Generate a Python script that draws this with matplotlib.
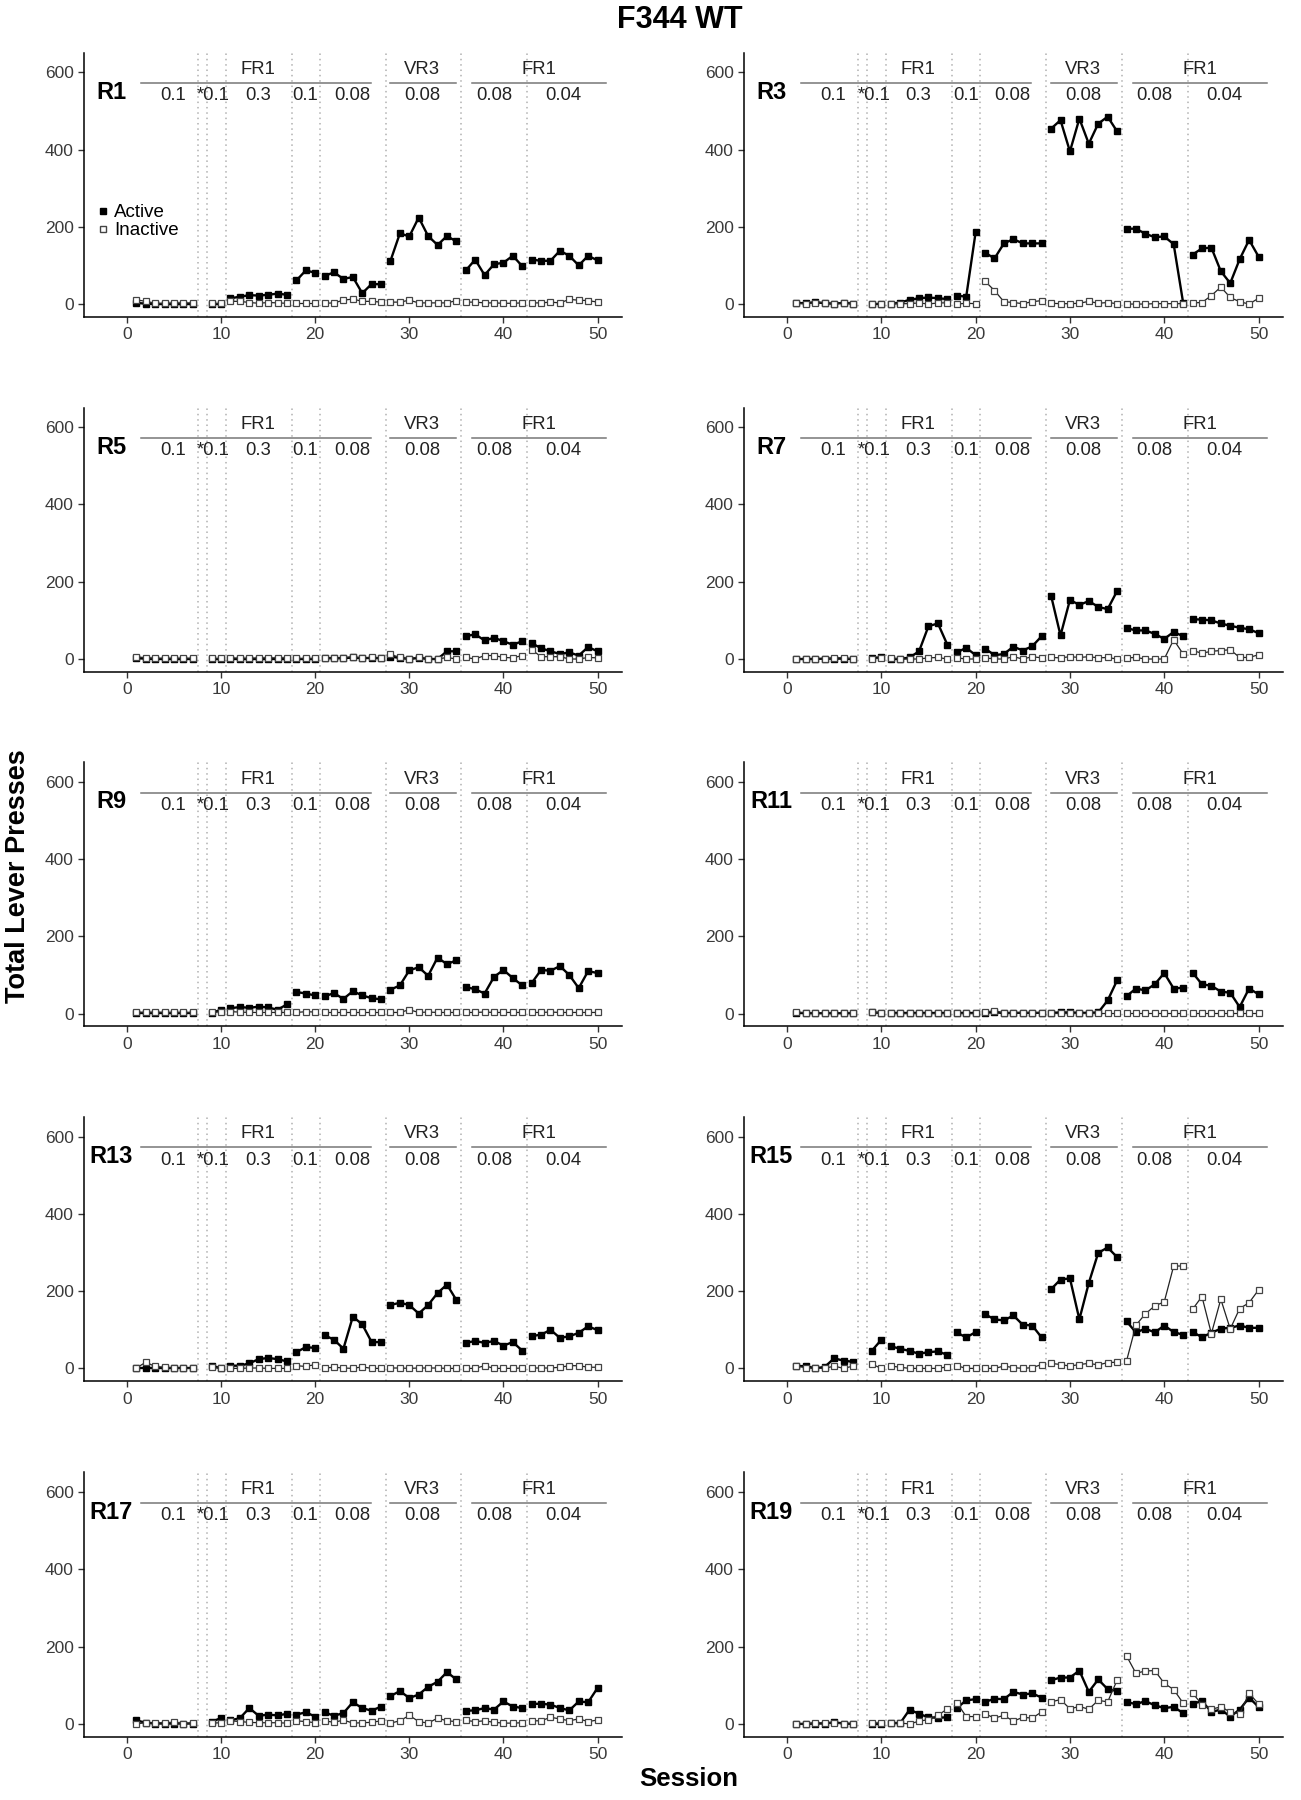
import numpy as np
import matplotlib.pyplot as plt
from matplotlib.lines import Line2D

plt.rcParams['font.family'] = ['Liberation Sans', 'DejaVu Sans']

# ===========================
# 1. Data
# ===========================

# session 8 was not recorded
sessions = list(range(1, 8)) + list(range(9, 51))
phase_breaks = [7.5, 8.5, 10.5, 17.5, 20.5, 27.5, 35.5, 42.5]

rats = ["R1", "R3", "R5", "R7", "R9", "R11", "R13", "R15", "R17", "R19"]

r1_active = [3, 1, 0, 0, 0, 0, 0, 1, 1,
             15, 19, 23, 22, 24, 27, 24, 61, 87, 81,
             73, 82, 65, 70, 28, 52, 51,
             112, 183, 175, 224, 176, 153, 176, 162,
             87, 115, 75, 103, 107, 125, 98,
             115, 112, 112, 138, 125, 100, 125, 113]
r1_inactive = [11, 7, 2, 2, 3, 3, 3, 4, 4,
               7, 7, 4, 2, 4, 3, 2, 2, 2, 2,
               2, 3, 10, 13, 7, 7, 5,
               5, 5, 10, 3, 3, 3, 3, 9,
               5, 5, 3, 3, 2, 2, 3,
               3, 3, 5, 3, 12, 10, 9, 5]

r3_active = [3, 2, 5, 2, 1, 3, 1, 0, 0,
             0, 4, 11, 15, 17, 15, 13, 22, 19, 186,
             133, 118, 157, 168, 157, 157, 157,
             454, 476, 395, 480, 415, 467, 485, 447,
             195, 195, 182, 173, 175, 155, 4,
             128, 144, 146, 85, 54, 116, 166, 123]
r3_inactive = [2, 1, 4, 4, 0, 4, 0, 1, 0,
               1, 1, 1, 3, 0, 3, 3, 0, 2, 1,
               59, 35, 6, 4, 1, 6, 9,
               2, 1, 1, 2, 7, 2, 4, 1,
               0, 0, 0, 1, 1, 1, 1,
               3, 4, 22, 44, 17, 6, 0, 15]

r5_active = [2, 1, 0, 0, 0, 0, 0, 0, 0,
             1, 1, 1, 1, 1, 1, 1, 1, 1, 1,
             2, 2, 2, 4, 2, 3, 2,
             6, 3, 0, 3, 0, 0, 20, 20,
             59, 64, 48, 55, 46, 37, 46,
             41, 28, 20, 13, 17, 9, 31, 20]
r5_inactive = [6, 3, 2, 2, 2, 2, 2, 2, 2,
               3, 2, 2, 3, 3, 3, 3, 2, 2, 2,
               3, 2, 3, 6, 2, 4, 2,
               12, 4, 0, 6, 0, 0, 4, 0,
               4, 0, 9, 9, 4, 3, 9,
               24, 6, 6, 6, 0, 0, 4, 3]

r7_active = [0, 0, 0, 1, 1, 1, 0, 3, 4,
             0, 0, 4, 20, 85, 92, 37, 17, 29, 10,
             27, 10, 13, 32, 22, 33, 59,
             164, 61, 153, 140, 150, 135, 129, 176,
             80, 74, 74, 65, 52, 70, 59,
             103, 102, 100, 92, 86, 81, 77, 67]
r7_inactive = [0, 0, 0, 0, 3, 3, 0, 0, 3,
               3, 0, 0, 0, 3, 4, 0, 3, 0, 0,
               3, 0, 0, 6, 0, 6, 3,
               4, 3, 6, 4, 6, 3, 4, 0,
               3, 4, 0, 0, 0, 50, 13,
               22, 15, 20, 22, 24, 4, 4, 11]

r9_active = [1, 1, 1, 1, 1, 1, 1, 2, 10,
             14, 17, 15, 18, 16, 10, 24, 56, 52, 47,
             45, 53, 38, 58, 47, 40, 37,
             62, 73, 112, 120, 98, 145, 128, 138,
             69, 63, 52, 95, 113, 92, 73,
             79, 113, 111, 123, 100, 66, 110, 105]
r9_inactive = [4, 3, 4, 3, 3, 3, 3, 3, 5,
               5, 4, 3, 3, 3, 3, 3, 3, 5, 4,
               3, 3, 3, 3, 3, 3, 3,
               3, 3, 10, 3, 4, 3, 3, 3,
               3, 3, 4, 3, 3, 3, 3,
               3, 3, 4, 3, 3, 3, 3, 3]

r11_active = [2, 1, 1, 1, 1, 1, 1, 3, 2,
              1, 1, 1, 1, 1, 1, 1, 1, 1, 1,
              2, 4, 1, 2, 2, 2, 2,
              2, 3, 3, 2, 2, 3, 34, 86,
              45, 65, 60, 76, 105, 65, 67,
              106, 76, 72, 57, 54, 17, 65, 50]
r11_inactive = [4, 2, 2, 2, 2, 2, 2, 4, 2,
                1, 1, 1, 1, 1, 1, 1, 1, 1, 1,
                3, 8, 1, 2, 2, 2, 2,
                2, 2, 2, 2, 2, 2, 2, 2,
                1, 1, 1, 1, 1, 1, 1,
                1, 1, 1, 1, 1, 1, 1, 1]

r13_active = [0, 0, 0, 0, 0, 0, 0, 7, 0,
              7, 7, 13, 24, 27, 24, 18, 42, 55, 53,
              86, 74, 51, 134, 114, 68, 68,
              164, 170, 164, 142, 164, 195, 217, 177,
              66, 71, 66, 71, 59, 68, 46,
              84, 87, 100, 79, 83, 92, 109, 99]
r13_inactive = [1, 16, 5, 3, 1, 1, 0, 3, 0,
                0, 0, 1, 1, 0, 0, 0, 7, 5, 10,
                1, 3, 1, 0, 4, 0, 0,
                1, 1, 0, 1, 1, 1, 0, 0,
                0, 0, 7, 0, 0, 0, 1,
                1, 1, 1, 3, 7, 7, 3, 3]

r15_active = [6, 6, 0, 4, 26, 20, 17, 46, 74,
              57, 51, 45, 38, 42, 44, 35, 93, 80, 94,
              140, 127, 124, 137, 113, 111, 80,
              205, 230, 233, 127, 221, 299, 313, 288,
              122, 93, 103, 93, 111, 94, 87,
              94, 81, 92, 103, 105, 111, 105, 105]
r15_inactive = [6, 2, 0, 0, 6, 0, 6, 11, 0,
                6, 3, 0, 0, 0, 0, 4, 7, 0, 0,
                0, 0, 6, 2, 0, 2, 10,
                13, 10, 6, 10, 13, 9, 15, 16,
                19, 112, 141, 162, 172, 265, 265,
                153, 186, 90, 179, 102, 155, 170, 203]

r17_active = [9, 3, 1, 1, 1, 1, 1, 6, 15,
              9, 15, 41, 21, 24, 22, 26, 24, 30, 19,
              30, 21, 28, 56, 41, 34, 45,
              72, 85, 67, 76, 96, 109, 134, 115,
              34, 35, 41, 37, 58, 45, 41,
              52, 52, 50, 41, 35, 58, 56, 93]
r17_inactive = [0, 3, 2, 3, 4, 0, 2, 2, 3,
                8, 6, 4, 3, 3, 3, 2, 8, 6, 3,
                8, 4, 10, 2, 3, 4, 8,
                2, 8, 22, 6, 2, 15, 8, 6,
                9, 6, 8, 4, 2, 2, 3,
                8, 8, 17, 13, 8, 13, 6, 10]

r19_active = [0, 0, 1, 1, 4, 1, 0, 1, 1,
              2, 2, 37, 26, 17, 16, 17, 41, 61, 64,
              57, 65, 64, 83, 76, 79, 68,
              113, 120, 120, 138, 83, 115, 90, 85,
              57, 51, 59, 48, 41, 44, 28,
              52, 59, 31, 37, 19, 37, 68, 44]
r19_inactive = [0, 0, 3, 2, 3, 0, 0, 3, 2,
                3, 2, 0, 7, 11, 22, 39, 55, 19, 19,
                26, 15, 22, 7, 17, 15, 31,
                57, 63, 39, 45, 38, 61, 57, 113,
                176, 131, 137, 138, 105, 89, 54,
                80, 50, 38, 44, 31, 26, 79, 52]

active_data = [r1_active, r3_active, r5_active, r7_active, r9_active,
               r11_active, r13_active, r15_active, r17_active, r19_active]
inactive_data = [r1_inactive, r3_inactive, r5_inactive, r7_inactive, r9_inactive,
                 r11_inactive, r13_inactive, r15_inactive, r17_inactive, r19_inactive]

# phase annotations
schedule_labels = ["FR1", "VR3", "FR1"]
schedule_x = [13.9, 31.4, 43.8]
schedule_spans = [(1.5, 25.9), (28.0, 35.0), (36.7, 50.9)]
dose_labels = ["0.1", "*0.1", "0.3", "0.1", "0.08", "0.08", "0.08", "0.04"]
dose_x = [4.9, 9.2, 13.9, 18.95, 23.9, 31.4, 39.0, 46.4]


# ===========================
# 2. Layout
# ===========================

XLIM = (-4.56, 52.6)
YLIM = (-33, 651)

col_left = [0.0646, 0.5719]
col_width = [0.4135, 0.4143]
row_bottom = [0.8240, 0.6268, 0.4298, 0.2327, 0.0352]
row_height = 0.1468

fig = plt.figure(figsize=(13.01, 18.0), dpi=100)


def draw_segments(ax, values, **style):
    """Plot one series, breaking the line at each phase change."""
    s = np.asarray(sessions)
    v = np.asarray(values, dtype=float)
    edges = [0] + phase_breaks + [51]
    for lo, hi in zip(edges[:-1], edges[1:]):
        m = (s > lo) & (s < hi)
        if m.any():
            ax.plot(s[m], v[m], **style)


for i, rat in enumerate(rats):
    row, col = divmod(i, 2)
    ax = fig.add_axes([col_left[col], row_bottom[row], col_width[col], row_height])

    for b in phase_breaks:
        ax.axvline(b, color="#b0b0b0", linestyle=(0, (1, 2.5)), linewidth=1.1, zorder=0)

    draw_segments(ax, active_data[i], color="black", linewidth=1.7,
                  marker="s", markersize=4.6, markerfacecolor="black",
                  markeredgecolor="black", zorder=2)
    draw_segments(ax, inactive_data[i], color="#222222", linewidth=0.9,
                  marker="s", markersize=4.8, markerfacecolor="white",
                  markeredgecolor="#444444", markeredgewidth=0.9, zorder=3)

    # schedule / dose annotations
    for lab, x, (x0, x1) in zip(schedule_labels, schedule_x, schedule_spans):
        ax.text(x, 607, lab, ha="center", va="center", fontsize=13.3, color="#222222")
        ax.plot([x0, x1], [572, 572], color="#777777", linewidth=1.1)
    for lab, x in zip(dose_labels, dose_x):
        ax.text(x, 539, lab, ha="center", va="center", fontsize=13.3, color="#222222")
    ax.text(-1.65, 548, rat, ha="center", va="center", fontsize=17, fontweight="bold")

    ax.set_xlim(XLIM)
    ax.set_ylim(YLIM)
    ax.set_xticks([0, 10, 20, 30, 40, 50])
    ax.set_yticks([0, 200, 400, 600])
    ax.spines["top"].set_visible(False)
    ax.spines["right"].set_visible(False)
    ax.spines["left"].set_linewidth(1.1)
    ax.spines["bottom"].set_linewidth(1.1)
    ax.tick_params(axis="both", labelsize=12.5, labelcolor="#3a3a3a",
                   color="#333333", length=4, width=1)

    if rat == "R1":
        handles = [
            Line2D([0], [0], marker="s", color="none", markerfacecolor="black",
                   markeredgecolor="black", markersize=5, label="Active"),
            Line2D([0], [0], marker="s", color="none", markerfacecolor="white",
                   markeredgecolor="#444444", markersize=5, label="Inactive"),
        ]
        ax.legend(handles=handles, loc="upper left", bbox_to_anchor=(0.012, 0.455),
                  frameon=False, fontsize=13.5, handlelength=0.5, handletextpad=0.35,
                  labelspacing=0.05, borderaxespad=0)

fig.text(0.5225, 0.989, "F344 WT", ha="center", va="center", fontsize=22, fontweight="bold")
fig.text(0.0135, 0.513, "Total Lever Presses", rotation=90, ha="center", va="center",
         fontsize=19.5, fontweight="bold")
fig.text(0.529, 0.0114, "Session", ha="center", va="center", fontsize=18.5, fontweight="bold")

fig.savefig("out.png", dpi=100)
